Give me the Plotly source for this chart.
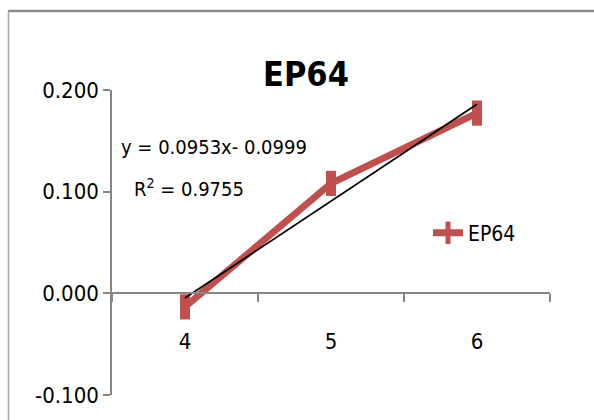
import numpy as np
import plotly.graph_objects as go

# ---- data ----
categories = ["4", "5", "6"]
ep64_values = [-0.0133, 0.1081, 0.1773]
y_tickvals = [-0.1, 0.0, 0.1, 0.2]
y_ticktext = ["-0.100", "0.000", "0.100", "0.200"]
series_name = "EP64"
title_text = "EP64"

# linear trendline (Excel style: x = 1..n)
idx = np.arange(1, len(ep64_values) + 1)
slope, intercept = np.polyfit(idx, ep64_values, 1)
trend_values = list(slope * idx + intercept)
eq_text = "y = 0.0953x- 0.0999"
r2_text = "R<sup>2</sup> = 0.9755"

FONT = "Liberation Sans Narrow, DejaVu Sans Condensed, Liberation Sans, sans-serif"
RED = "#C0504D"
AXIS = "#868686"

W, H = 594, 420
L, R, T, B = 112, 44, 90, 21
pw, ph = W - L - R, H - T - B

def px(x):
    return (x - L) / pw

def py(y):
    return (H - B - y) / ph

fig = go.Figure()
fig.add_trace(go.Scatter(
    x=categories, y=ep64_values, name=series_name, mode="lines+markers",
    line=dict(color=RED, width=7),
    marker=dict(symbol="line-ns", size=18, color=RED,
                line=dict(color=RED, width=10)),
    cliponaxis=False,
))
fig.add_trace(go.Scatter(
    x=categories, y=trend_values, mode="lines", showlegend=False,
    line=dict(color="#000000", width=1.8), cliponaxis=False,
))

fig.update_layout(
    width=W, height=H,
    margin=dict(l=L, r=R, t=T, b=B),
    paper_bgcolor="white", plot_bgcolor="white",
    font=dict(family=FONT, size=22, color="#000000"),
    title=dict(text="<b>" + title_text + "</b>", x=306 / W, xref="container",
               xanchor="center", y=1 - 74 / H, yref="container",
               yanchor="middle", font=dict(family=FONT, size=34, color="#000000")),
    showlegend=True,
    legend=dict(x=px(428), y=py(235), xanchor="left", yanchor="middle",
                bgcolor="rgba(0,0,0,0)", itemwidth=30, itemsizing="trace",
                font=dict(family=FONT, size=21, color="#000000")),
    xaxis=dict(type="category", range=[-0.5, 2.5], anchor="free",
               position=1 / 3, showline=True, linecolor=AXIS, linewidth=1.5,
               ticks="outside", tickson="boundaries", ticklen=8,
               tickcolor=AXIS, tickwidth=1.5, showgrid=False, zeroline=False,
               ticklabelstandoff=29),
    yaxis=dict(range=[-0.1, 0.2], tickvals=y_tickvals, ticktext=y_ticktext,
               showline=True, linecolor=AXIS, linewidth=1.5, ticks="outside",
               ticklen=7, tickcolor=AXIS, tickwidth=1.5, showgrid=False,
               zeroline=False),
    annotations=[
        dict(text=eq_text, xref="paper", yref="paper", x=px(119), y=py(148),
             xanchor="left", yanchor="middle", showarrow=False,
             font=dict(size=20)),
        dict(text=r2_text, xref="paper", yref="paper", x=px(189), y=py(189),
             xanchor="center", yanchor="middle", showarrow=False,
             font=dict(size=20)),
    ],
    shapes=[
        dict(type="line", xref="paper", yref="paper", x0=px(8), x1=px(W + 5),
             y0=py(10), y1=py(10), line=dict(color="#8C8C8C", width=2.5)),
        dict(type="line", xref="paper", yref="paper", x0=px(8.5), x1=px(8.5),
             y0=py(10), y1=py(H + 5), line=dict(color="#A6A6A6", width=1.5)),
    ],
)

fig.write_html("out.html")
